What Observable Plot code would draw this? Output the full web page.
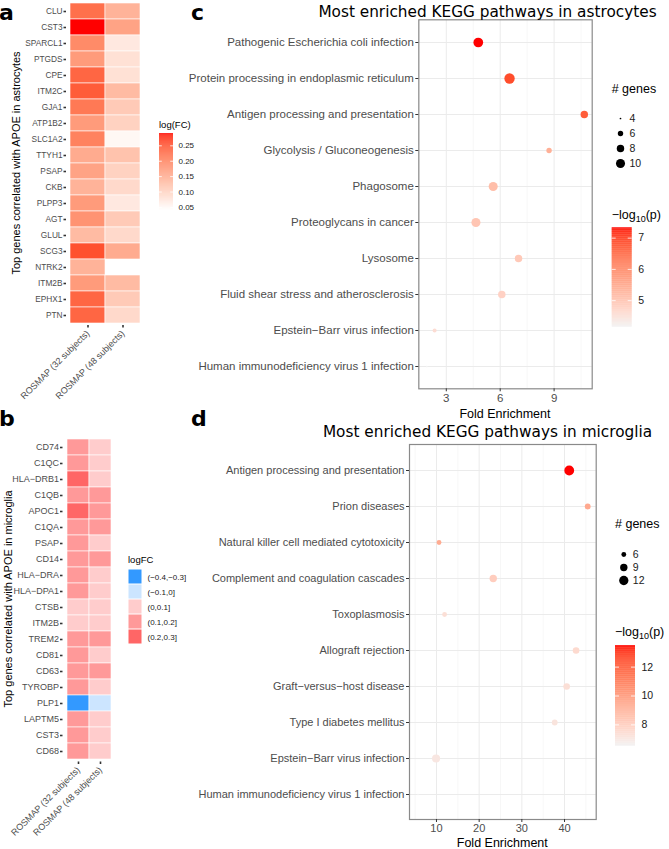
<!DOCTYPE html>
<html><head><meta charset="utf-8">
<script src="https://cdn.jsdelivr.net/npm/d3@7"></script>
<script src="https://cdn.jsdelivr.net/npm/@observablehq/plot@0.6"></script>
<style>
body{margin:0;background:#fff;}
#fig{position:relative;width:669px;height:849px;overflow:hidden;background:#fff;}
</style></head><body><div id="fig"></div>
<script>
// ---------- DATA ----------
const cohorts = ["ROSMAP (32 subjects)", "ROSMAP (48 subjects)"];

// panel a: astrocytes, log(FC)
const genesA = ["CLU","CST3","SPARCL1","PTGDS","CPE","ITM2C","GJA1","ATP1B2","SLC1A2","TTYH1","PSAP","CKB","PLPP3","AGT","GLUL","SCG3","NTRK2","ITM2B","EPHX1","PTN"];
const fcA32 = [0.22,0.29,0.19,0.17,0.23,0.24,0.21,0.17,0.20,0.15,0.16,0.14,0.17,0.18,0.13,0.25,0.14,0.17,0.23,0.23];
const fcA48 = [0.14,0.16,0.07,0.08,0.08,0.13,0.11,0.10,0.05,0.12,0.10,0.09,0.07,0.11,0.09,0.15,null,0.13,0.11,0.09];
const legendTicksA = [0.05,0.10,0.15,0.20,0.25];

// panel b: microglia, logFC bins
const genesB = ["CD74","C1QC","HLA−DRB1","C1QB","APOC1","C1QA","PSAP","CD14","HLA−DRA","HLA−DPA1","CTSB","ITM2B","TREM2","CD81","CD63","TYROBP","PLP1","LAPTM5","CST3","CD68"];
const binsB = ["(−0.4,−0.3]","(−0.1,0]","(0,0.1]","(0.1,0.2]","(0.2,0.3]"];
const fcB32 = ["(0.1,0.2]","(0.1,0.2]","(0.2,0.3]","(0.1,0.2]","(0.2,0.3]","(0.1,0.2]","(0.1,0.2]","(0.1,0.2]","(0.1,0.2]","(0.1,0.2]","(0,0.1]","(0,0.1]","(0.1,0.2]","(0.1,0.2]","(0.1,0.2]","(0.1,0.2]","(−0.4,−0.3]","(0.1,0.2]","(0.1,0.2]","(0.1,0.2]"];
const fcB48 = ["(0,0.1]","(0,0.1]","(0,0.1]","(0.1,0.2]","(0.1,0.2]","(0.1,0.2]","(0,0.1]","(0.1,0.2]","(0,0.1]","(0,0.1]","(0,0.1]","(0,0.1]","(0.1,0.2]","(0,0.1]","(0.1,0.2]","(0,0.1]","(−0.1,0]","(0,0.1]","(0,0.1]","(0,0.1]"];

// panel c: KEGG astrocytes
const pathwaysC = ["Pathogenic Escherichia coli infection","Protein processing in endoplasmic reticulum","Antigen processing and presentation","Glycolysis / Gluconeogenesis","Phagosome","Proteoglycans in cancer","Lysosome","Fluid shear stress and atherosclerosis","Epstein−Barr virus infection","Human immunodeficiency virus 1 infection"];
const foldC = [4.78,6.52,10.68,8.72,5.61,4.65,7.02,6.09,2.35,1.91];
const genesCountC = [11,12,8,6,10,10,8,8,5,4];
const logpC = [7.33,6.85,6.65,5.35,5.1,4.97,4.9,4.75,4.55,4.15];
const xTicksC = [3,6,9];
const sizeBreaksC = [4,6,8,10];
const colorTicksC = [5,6,7];

// panel d: KEGG microglia
const pathwaysD = ["Antigen processing and presentation","Prion diseases","Natural killer cell mediated cytotoxicity","Complement and coagulation cascades","Toxoplasmosis","Allograft rejection","Graft−versus−host disease","Type I diabetes mellitus","Epstein−Barr virus infection","Human immunodeficiency virus 1 infection"];
const foldD = [41.1,45.43,10.6,23.3,11.9,42.7,40.5,37.7,9.9,5.67];
const genesCountD = [13,7,6,9,6,8,8,7,10,4];
const logpD = [13.5,9.4,9.3,8.0,7.3,7.5,7.3,7.1,7.0,6.52];
const xTicksD = [10,20,30,40];
const sizeBreaksD = [6,9,12];
const colorTicksD = [8,10,12];

// ---------- STYLE ----------
const FONT = '"Liberation Sans", Arial, Helvetica, sans-serif';
const TITLEFONT = '"DejaVu Sans", Verdana, sans-serif';
const binColors = ["#3399FF","#CCE5FF","#FFCCCC","#FF9999","#FF6666"];
const baseStyle = {background: "transparent", fontFamily: FONT, overflow: "visible"};
const fig = document.getElementById("fig");
function place(node, left, top) {
  node.style.position = "absolute";
  node.style.left = left + "px";
  node.style.top = top + "px";
  fig.appendChild(node);
}
// ggplot-like area size scale (range 1..6 in diameter units)
function ggSize(min, max, rmax) {
  const c = min - (max - min) / 35;
  return {type: "sqrt", transform: v => v - c, domain: [0, max - c], range: [0, rmax]};
}

const colorA = {type: "linear", domain: [0.04, 0.29], range: ["#ffffff", "#ff0000"], interpolate: "lab"};
const colorB = {type: "ordinal", domain: binsB, range: binColors};
const colorC = {type: "linear", domain: [4.15, 7.33], range: ["#f2f2f2", "#ff0000"], interpolate: "lab"};
const colorD = {type: "linear", domain: [6.52, 13.5], range: ["#f2f2f2", "#ff0000"], interpolate: "lab"};
const sizeC = ggSize(4, 12, 5.2);
const sizeD = ggSize(4, 13, 4.9);

// ---------- TABLES ----------
const tableA = genesA.flatMap((g, i) => [
  {gene: g, cohort: cohorts[0], fc: fcA32[i]},
  {gene: g, cohort: cohorts[1], fc: fcA48[i]}
]).filter(d => d.fc != null);
const tableB = genesB.flatMap((g, i) => [
  {gene: g, cohort: cohorts[0], bin: fcB32[i]},
  {gene: g, cohort: cohorts[1], bin: fcB48[i]}
]);
const tableC = pathwaysC.map((p, i) => ({pathway: p, fold: foldC[i], genes: genesCountC[i], logp: logpC[i]}));
const tableD = pathwaysD.map((p, i) => ({pathway: p, fold: foldD[i], genes: genesCountD[i], logp: logpD[i]}));

// ---------- PANEL A ----------
place(Plot.plot({
  width: 150, height: 410, marginLeft: 66, marginRight: 10, marginTop: 1, marginBottom: 85, insetLeft: 4,
  style: baseStyle,
  x: {domain: cohorts, padding: 0},
  y: {domain: genesA, padding: 0},
  color: colorA,
  marks: [
    Plot.cell(tableA, {x: "cohort", y: "gene", fill: "fc", stroke: "white", strokeWidth: 0.6}),
    Plot.axisY({tickSize: 2.5, tickPadding: 1.5, strokeWidth: 1.6, stroke: "#333", fill: "#4d4d4d", fontSize: 8.3, label: null}),
    Plot.axisX({tickSize: 2.5, tickPadding: 4, tickRotate: -45, strokeWidth: 1.6, stroke: "#333", fill: "#4d4d4d", fontSize: 9, label: null})
  ]
}), 0, 0);

// ---------- PANEL B ----------
place(Plot.plot({
  width: 120, height: 419, marginLeft: 62.5, marginRight: 9, marginTop: 6, marginBottom: 87.5, insetLeft: 4,
  style: baseStyle,
  x: {domain: cohorts, padding: 0},
  y: {domain: genesB, padding: 0},
  color: colorB,
  marks: [
    Plot.cell(tableB, {x: "cohort", y: "gene", fill: "bin", stroke: "white", strokeWidth: 0.6}),
    Plot.axisY({tickSize: 2.5, tickPadding: 1.5, strokeWidth: 1.6, stroke: "#333", fill: "#4d4d4d", fontSize: 9, label: null}),
    Plot.axisX({tickSize: 2.5, tickPadding: 4, tickRotate: -45, strokeWidth: 1.6, stroke: "#333", fill: "#4d4d4d", fontSize: 9, label: null})
  ]
}), 0, 430);

// ---------- LEGENDS ----------
function colorBar(colorOpts, lo, hi, ticks, fmt, w, h, bx, bw, btop, bbot, fs, dx) {
  const n = 150, step = (hi - lo) / n;
  const slices = d3.range(n).map(i => lo + i * step);
  return Plot.plot({
    width: w, height: h, margin: 0, style: baseStyle,
    x: {domain: [0, 1], range: [bx, bx + bw], axis: null},
    y: {domain: [lo, hi], range: [bbot, btop], axis: null},
    color: colorOpts,
    marks: [
      Plot.rect(slices, {x1: () => 0, x2: () => 1, y1: d => d, y2: d => Math.min(hi, d + step * 1.3), fill: d => d + step / 2}),
      Plot.ruleY(ticks, {x1: () => 0, x2: () => 0.2, stroke: "white", strokeWidth: 0.8}),
      Plot.ruleY(ticks, {x1: () => 0.8, x2: () => 1, stroke: "white", strokeWidth: 0.8}),
      Plot.text(ticks, {x: () => 1, y: d => d, text: fmt, dx, textAnchor: "start", fontSize: fs, fill: "#1a1a1a"})
    ]
  });
}
function sizeLegend(rOpts, breaks, w, h, cx, ytop, ybot, fs) {
  return Plot.plot({
    width: w, height: h, margin: 0, style: baseStyle,
    x: {domain: [0, 1], range: [cx, cx + 10], axis: null},
    y: {type: "point", domain: breaks, range: [ytop, ybot], axis: null},
    r: rOpts,
    marks: [
      Plot.dot(breaks, {x: () => 0, y: d => d, r: d => d, fill: "black"}),
      Plot.text(breaks, {x: () => 0, y: d => d, text: d => String(d), dx: 9, textAnchor: "start", fontSize: fs, fill: "#1a1a1a"})
    ]
  });
}
// legend a
place(colorBar(colorA, 0.04, 0.29, legendTicksA, d => d.toFixed(2), 60, 90, 9, 14, 3, 80, 8, 5), 150, 130);
// legend b
place(Plot.plot({
  width: 110, height: 90, margin: 0, style: baseStyle,
  x: {domain: ["k"], range: [8, 22], padding: 0, axis: null},
  y: {domain: binsB, range: [8.5, 83.5], padding: 0, axis: null},
  color: colorB,
  marks: [
    Plot.cell(binsB, {x: () => "k", y: d => d, fill: d => d, inset: 0.5}),
    Plot.text(binsB, {x: () => "k", y: d => d, text: d => d, dx: 12, textAnchor: "start", fontSize: 8, fill: "#1a1a1a"})
  ]
}), 120, 560);

// ---------- PANELS C / D ----------
function dotPanel(table, domainY, xDomain, xTicks, minorTicks, rOpts, colOpts, opts) {
  return Plot.plot({
    width: opts.width, height: opts.height,
    marginLeft: opts.ml, marginRight: opts.mr, marginTop: opts.mt, marginBottom: opts.mb,
    style: baseStyle,
    x: {domain: xDomain},
    y: {type: "point", domain: domainY, padding: 0.6},
    r: rOpts,
    color: colOpts,
    marks: [
      Plot.gridX(minorTicks, {stroke: "#f2f2f2", strokeOpacity: 1, strokeWidth: 0.6}),
      Plot.gridX(xTicks, {stroke: "#ebebeb", strokeOpacity: 1, strokeWidth: 1}),
      Plot.gridY({stroke: "#ebebeb", strokeOpacity: 1, strokeWidth: 1}),
      Plot.dot(table, {x: "fold", y: "pathway", r: "genes", fill: "logp"}),
      Plot.frame({stroke: "#8a8a8a", strokeWidth: 1.2}),
      Plot.axisY({tickSize: 3, tickPadding: 2, strokeWidth: 1, stroke: "#333", fill: "#4d4d4d", fontSize: opts.fs, label: null}),
      Plot.axisX(xTicks, {tickSize: 3, tickPadding: 2, strokeWidth: 1, stroke: "#333", fill: "#4d4d4d", fontSize: opts.fs, label: null})
    ]
  });
}
place(dotPanel(tableC, pathwaysC, [1.47, 11.12], xTicksC, [1.5, 4.5, 7.5, 10.5], sizeC, colorC,
  {width: 400, height: 420, ml: 218.3, mr: 8.3, mt: 19.3, mb: 31.7, fs: 11.5}), 200, 0);
place(sizeLegend(sizeC, sizeBreaksC, 60, 80, 20, 10, 70, 10.5), 600, 100);
place(colorBar(colorC, 4.15, 7.33, colorTicksC, d => String(d), 60, 115, 11.7, 20, 7.3, 106.7, 10.5, 6), 600, 220);

place(dotPanel(tableD, pathwaysD, [3.68, 47.42], xTicksD, [5, 15, 25, 35, 45], sizeD, colorD,
  {width: 400, height: 419, ml: 209, mr: 4.3, mt: 14, mb: 30, fs: 11}), 200, 430);
place(sizeLegend(sizeD, sizeBreaksD, 60, 70, 23.3, 16.7, 56.7, 10.5), 600, 530);
place(colorBar(colorD, 6.52, 13.5, colorTicksD, d => String(d), 60, 115, 15, 20, 5, 105.7, 10.5, 6), 600, 640);

// ---------- ANNOTATIONS ----------
const svg = d3.create("svg").attr("width", 669).attr("height", 849)
  .style("position", "absolute").style("left", "0px").style("top", "0px").style("pointer-events", "none");
function txt(x, y, s, o = {}) {
  const t = svg.append("text").attr("x", x).attr("y", y).text(s)
    .attr("font-family", o.family || FONT).attr("font-size", o.size || 12)
    .attr("fill", o.fill || "#000").attr("text-anchor", o.anchor || "start");
  if (o.weight) t.attr("font-weight", o.weight);
  if (o.rotate) t.attr("transform", `rotate(${o.rotate},${x},${y})`);
  return t;
}
// panel letters
txt(-1, 20, "a", {family: TITLEFONT, size: 22, weight: "bold"});
txt(-1, 426, "b", {family: TITLEFONT, size: 22, weight: "bold"});
txt(191, 20, "c", {family: TITLEFONT, size: 22, weight: "bold"});
txt(191, 426, "d", {family: TITLEFONT, size: 22, weight: "bold"});
// titles
txt(487.5, 17, "Most enriched KEGG pathways in astrocytes", {family: TITLEFONT, size: 15.3, anchor: "middle"});
txt(487.5, 436.7, "Most enriched KEGG pathways in microglia", {family: TITLEFONT, size: 15.3, anchor: "middle"});
// axis titles
txt(505, 417.5, "Fold Enrichment", {size: 12.5, anchor: "middle"});
txt(502.3, 846.5, "Fold Enrichment", {size: 12.5, anchor: "middle"});
txt(19.5, 163, "Top genes correlated with APOE in astrocytes", {size: 11, anchor: "middle", rotate: -90});
txt(11.5, 599, "Top genes correlated with APOE in microglia", {size: 11, anchor: "middle", rotate: -90});
// legend titles
txt(159, 127.5, "log(FC)", {size: 9.5});
txt(128, 562.5, "logFC", {size: 9.5});
txt(611.7, 92.7, "# genes", {size: 12.5});
txt(615, 528.3, "# genes", {size: 12.5});
function logTitle(x, y) {
  const t = txt(x, y, "−log", {size: 12.5});
  t.append("tspan").attr("font-size", 9).attr("dy", 3).text("10");
  t.append("tspan").attr("dy", -3).text("(p)");
}
logTitle(611.7, 219);
logTitle(615, 635.7);
fig.appendChild(svg.node());
</script></body></html>
